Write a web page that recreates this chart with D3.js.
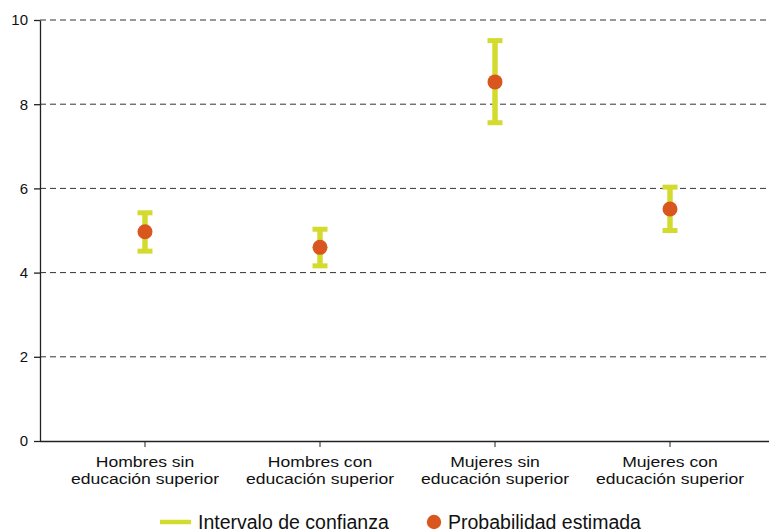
<!DOCTYPE html>
<html>
<head>
<meta charset="utf-8">
<script src="https://cdn.jsdelivr.net/npm/d3@7"></script>
<style>
  html, body { margin: 0; padding: 0; background: #fff; }
  svg { display: block; font-family: "Liberation Sans", Arial, sans-serif; }
</style>
</head>
<body>
<svg id="chart" width="769" height="532"></svg>
<script>
// Groups (two-line labels)
const categories = [
  ["Hombres sin", "educación superior"],
  ["Hombres con", "educación superior"],
  ["Mujeres sin", "educación superior"],
  ["Mujeres con", "educación superior"]
];
// Estimated probability and confidence bounds per group
const estimate = [4.97, 4.60, 8.53, 5.51];
const lower    = [4.51, 4.16, 7.56, 5.00];
const upper    = [5.42, 5.03, 9.51, 6.03];
// Y axis ticks
const yTicks = [0, 2, 4, 6, 8, 10];
// Legend entries
const legendLabels = ["Intervalo de confianza", "Probabilidad estimada"];

const ciColor = "#d4db2f";
const ptColor = "#d9561f";

const svg = d3.select("#chart");
const keys = categories.map(c => c.join(" "));

const x = d3.scaleBand().domain(keys).range([57.5, 757.5]);
const cx = k => x(k) + x.bandwidth() / 2;
const y = d3.scaleLinear().domain([0, 10]).range([441, 20]);

const axisLeft = 40, axisRight = 769;

// Dashed gridlines
svg.append("g")
  .selectAll("line")
  .data(yTicks.filter(t => t > 0))
  .join("line")
  .attr("x1", axisLeft).attr("x2", axisRight)
  .attr("y1", d => y(d)).attr("y2", d => y(d))
  .attr("stroke", "#333")
  .attr("stroke-width", 1)
  .attr("stroke-dasharray", "6,4");

// Y axis
const yAxis = svg.append("g")
  .attr("transform", `translate(${axisLeft},0)`)
  .call(d3.axisLeft(y).tickValues(yTicks).tickSize(6).tickSizeOuter(0).tickPadding(6));
yAxis.select(".domain").attr("stroke", "#222").attr("stroke-width", 1.3);
yAxis.selectAll(".tick line").attr("stroke", "#222").attr("stroke-width", 1.3);
yAxis.selectAll(".tick text")
  .attr("font-family", "Liberation Sans, Arial, sans-serif")
  .attr("font-size", 15).attr("fill", "#111");

// X axis
const xAxis = svg.append("g")
  .attr("transform", `translate(0,${y(0)})`)
  .call(d3.axisBottom(x).tickSize(6).tickSizeOuter(0).tickFormat(""));
xAxis.select(".domain").attr("d", `M${axisLeft},0.5H${axisRight}`)
  .attr("stroke", "#222").attr("stroke-width", 1.3);
xAxis.selectAll(".tick line").attr("stroke", "#222").attr("stroke-width", 1);

// Two-line category labels
const lbl = svg.append("g").selectAll("text")
  .data(categories)
  .join("text")
  .attr("transform", d => `translate(${cx(d.join(" "))},0) scale(1.14,1)`)
  .attr("text-anchor", "middle")
  .attr("font-size", 15.4)
  .attr("fill", "#111");
lbl.append("tspan").attr("x", 0).attr("y", 466.7).text(d => d[0]);
lbl.append("tspan").attr("x", 0).attr("y", 484).text(d => d[1]);

// Confidence intervals
const rows = keys.map((k, i) => ({ k, est: estimate[i], lo: lower[i], hi: upper[i] }));
const ci = svg.append("g").selectAll("g").data(rows).join("g");
ci.append("line")
  .attr("x1", d => cx(d.k)).attr("x2", d => cx(d.k))
  .attr("y1", d => y(d.hi)).attr("y2", d => y(d.lo))
  .attr("stroke", ciColor).attr("stroke-width", 5.5);
["hi", "lo"].forEach(end => {
  ci.append("line")
    .attr("x1", d => cx(d.k) - 7.5).attr("x2", d => cx(d.k) + 7.5)
    .attr("y1", d => y(d[end])).attr("y2", d => y(d[end]))
    .attr("stroke", ciColor).attr("stroke-width", 5);
});

// Point estimates
svg.append("g").selectAll("circle").data(rows).join("circle")
  .attr("cx", d => cx(d.k)).attr("cy", d => y(d.est))
  .attr("r", 7.5).attr("fill", ptColor);

// Legend
const lg = svg.append("g");
lg.append("line").attr("x1", 160).attr("x2", 191).attr("y1", 522).attr("y2", 522)
  .attr("stroke", ciColor).attr("stroke-width", 4.5);
lg.append("text").attr("x", 198).attr("y", 528.5).attr("font-size", 19.5).attr("fill", "#111")
  .text(legendLabels[0]);
lg.append("circle").attr("cx", 434).attr("cy", 522).attr("r", 7.2).attr("fill", ptColor);
lg.append("text").attr("x", 448).attr("y", 528.5).attr("font-size", 19.5).attr("fill", "#111")
  .text(legendLabels[1]);
</script>
</body>
</html>
